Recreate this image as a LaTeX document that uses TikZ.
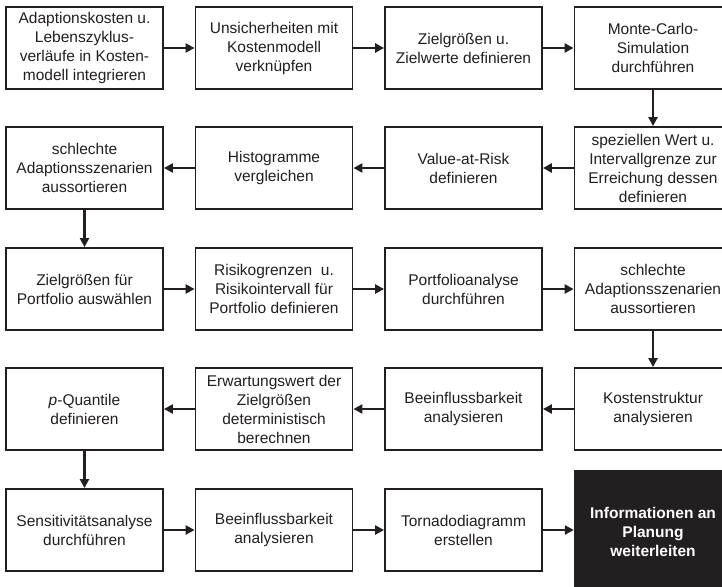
\documentclass[tikz,border=0pt]{standalone}
\usepackage{fontspec}
\setmainfont{Liberation Sans}
\usetikzlibrary{arrows.meta}
\definecolor{ink}{HTML}{231F20}
\begin{document}
\begin{tikzpicture}[x=1pt,y=-1pt,
  stepbox/.style={draw=ink,line width=1.8pt,fill=white,minimum width=157pt,minimum height=82pt,
    inner sep=0pt,align=center,font=\fontsize{15.5}{19}\selectfont,text=ink},
  finalbox/.style={fill=ink,minimum width=158pt,minimum height=124pt,inner sep=0pt,align=center,
    font=\fontsize{15.5}{19}\selectfont\bfseries,text=white},
  flow/.style={draw=ink,line width=2.4pt,-{Triangle[length=9pt,width=9pt]}}]
\useasboundingbox (0,0) rectangle (722,586);
\clip (0,0) rectangle (722,586);
\fill[white] (0,0) rectangle (722,586);

% row 1
\node[stepbox] (a1) at (84.5,48) {Adaptionskosten u.\\Lebenszyklus-\\verläufe in Kosten-\\modell integrieren};
\node[stepbox] (a2) at (274,48) {Unsicherheiten mit\\Kostenmodell\\verknüpfen};
\node[stepbox] (a3) at (463.5,48) {Zielgrößen u.\\Zielwerte definieren};
\node[stepbox] (a4) at (653,48) {Monte-Carlo-\\Simulation\\durchführen};
% row 2
\node[stepbox] (b4) at (653,168) {speziellen Wert u.\\Intervallgrenze zur\\Erreichung dessen\\definieren};
\node[stepbox] (b3) at (463.5,168) {Value-at-Risk\\definieren};
\node[stepbox] (b2) at (274,168) {Histogramme\\vergleichen};
\node[stepbox] (b1) at (84.5,168) {schlechte\\Adaptionsszenarien\\aussortieren};
% row 3
\node[stepbox] (c1) at (84.5,289) {Zielgrößen für\\Portfolio auswählen};
\node[stepbox] (c2) at (274,289) {Risikogrenzen\ \ u.\\Risikointervall für\\Portfolio definieren};
\node[stepbox] (c3) at (463.5,289) {Portfolioanalyse\\durchführen};
\node[stepbox] (c4) at (653,289) {schlechte\\Adaptionsszenarien\\aussortieren};
% row 4
\node[stepbox] (d4) at (653,409) {Kostenstruktur\\analysieren};
\node[stepbox] (d3) at (463.5,409) {Beeinflussbarkeit\\analysieren};
\node[stepbox] (d2) at (274,409) {Erwartungswert der\\Zielgrößen\\deterministisch\\berechnen};
\node[stepbox] (d1) at (84.5,409) {\textit{p}-Quantile\\definieren};
% row 5
\node[stepbox] (e1) at (84.5,530) {Sensitivitätsanalyse\\durchführen};
\node[stepbox] (e2) at (274,530) {Beeinflussbarkeit\\analysieren};
\node[stepbox] (e3) at (463.5,530) {Tornadodiagramm\\erstellen};
\node[finalbox] (e4) at (653,532) {Informationen an\\Planung\\weiterleiten};

% connectors
\draw[flow] (a1) -- (a2);
\draw[flow] (a2) -- (a3);
\draw[flow] (a3) -- (a4);
\draw[flow] (a4) -- (b4);
\draw[flow] (b4) -- (b3);
\draw[flow] (b3) -- (b2);
\draw[flow] (b2) -- (b1);
\draw[flow] (b1) -- (c1);
\draw[flow] (c1) -- (c2);
\draw[flow] (c2) -- (c3);
\draw[flow] (c3) -- (c4);
\draw[flow] (c4) -- (d4);
\draw[flow] (d4) -- (d3);
\draw[flow] (d3) -- (d2);
\draw[flow] (d2) -- (d1);
\draw[flow] (d1) -- (e1);
\draw[flow] (e1) -- (e2);
\draw[flow] (e2) -- (e3);
\draw[flow] (e3) -- (e3 -| e4.west);
\end{tikzpicture}
\end{document}
